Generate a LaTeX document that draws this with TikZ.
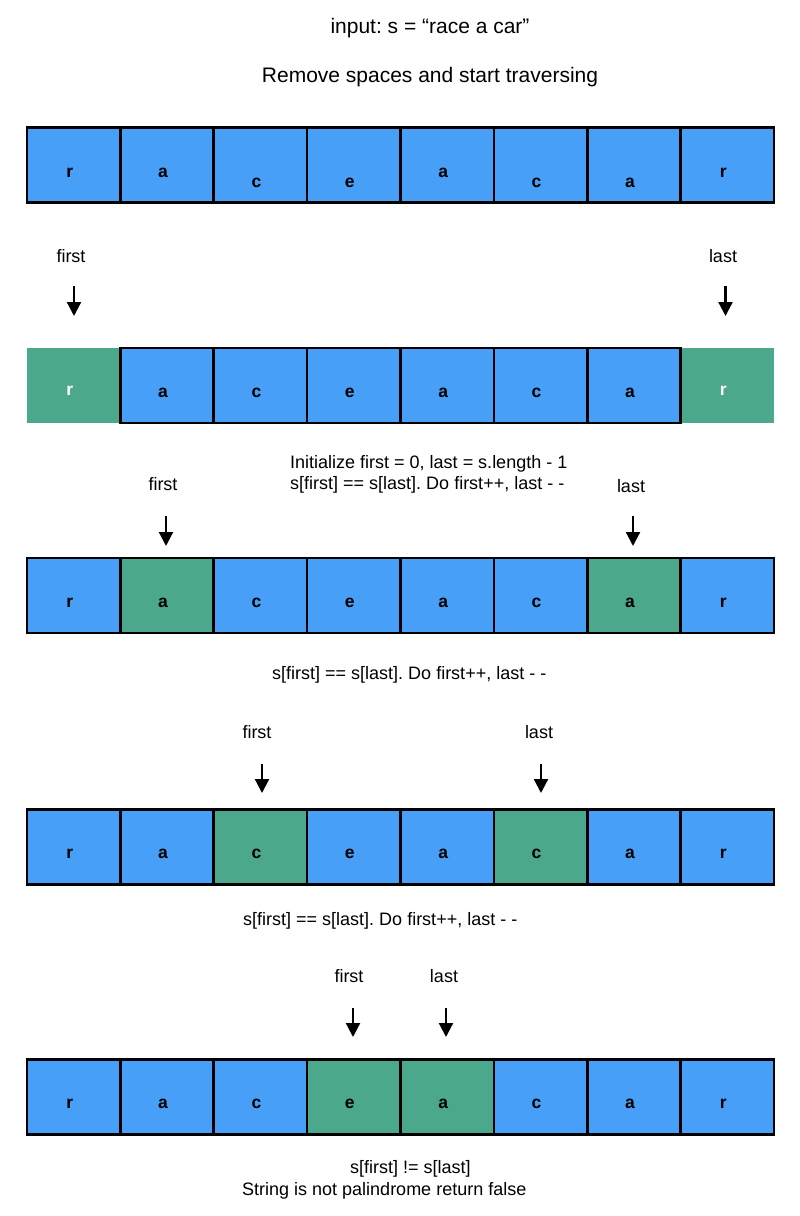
\documentclass[tikz,border=0pt]{standalone}
\usepackage{fontspec}
\setmainfont{Liberation Sans}
\usetikzlibrary{arrows.meta}
\definecolor{cellblue}{RGB}{72,159,248}
\definecolor{cellgreen}{RGB}{76,168,140}
\frenchspacing
\begin{document}
\begin{tikzpicture}[x=1pt,y=-1pt,
  cellbox/.style={rectangle, minimum width=93.375pt, minimum height=75pt, inner sep=0pt, outer sep=0pt, fill=cellblue, draw=black, line width=2.6pt},
  greenbox/.style={cellbox, fill=cellgreen},
  plaingreen/.style={rectangle, minimum width=92pt, minimum height=75pt, inner sep=0pt, outer sep=0pt, fill=cellgreen},
  letter/.style={anchor=base, inner sep=0pt, font=\fontsize{17.5}{20}\selectfont\bfseries},
  ptrlabel/.style={anchor=base, inner sep=0pt, font=\fontsize{18}{21}\selectfont},
  bigtext/.style={anchor=base, inner sep=0pt, font=\fontsize{21}{25}\selectfont},
  note/.style={anchor=base west, inner sep=0pt, font=\fontsize{18}{21}\selectfont},
  ptrarrow/.style={line width=2.2pt, -{Triangle[width=14pt,length=14pt]}}
]
\path[use as bounding box, fill=white] (0,0) rectangle (800,1216);

% titles
\node[bigtext] (title) at (430,33) {input: s = “race a car”};
\node[bigtext] (remove) at (430,82) {Remove spaces and start traversing};

% row 1
\foreach \i/\ch/\bl in {1/r/177,2/a/177,3/c/187,4/e/187,5/a/177,6/c/187,7/a/187,8/r/177}{
  \node[cellbox] (ra\i) at ({27+93.375*(\i-0.5)},165) {};
  \node[letter] (la\i) at ({23+93.375*(\i-0.5)},\bl) {\ch};
}

% row 2
\node[plaingreen] (rb1) at ({26.5+93.375*0.5},385.5) {};
\node[plaingreen] (rb8) at ({27.5+93.375*7.5},385.5) {};
\foreach \i/\ch in {2/a,3/c,4/e,5/a,6/c,7/a}{
  \node[cellbox] (rb\i) at ({27+93.375*(\i-0.5)},385.5) {};
  \node[letter] (lb\i) at ({23+93.375*(\i-0.5)},397) {\ch};
}
\node[letter, text=white] (lb1) at ({23+93.375*0.5},395) {r};
\node[letter, text=white] (lb8) at ({23+93.375*7.5},395) {r};

\node[ptrlabel] (f2) at (71,262) {first};
\node[ptrlabel] (l2) at (723,262) {last};
\coordinate (f2s) at (74,286); \coordinate (f2e) at (74,316);
\coordinate (l2s) at (725.5,286); \coordinate (l2e) at (725.5,316);
\draw[ptrarrow] (f2s) -- (f2e);
\draw[ptrarrow] (l2s) -- (l2e);

% row 3
\node[note] (init1) at (290,468) {Initialize first = 0, last = s.length - 1};
\node[note] (init2) at (290,489) {s[first] == s[last]. Do first++, last - -};
\node[ptrlabel] (f3) at (163,490) {first};
\node[ptrlabel] (l3) at (631,492) {last};
\coordinate (f3s) at (166,516); \coordinate (f3e) at (166,546);
\coordinate (l3s) at (633,516); \coordinate (l3e) at (633,546);
\draw[ptrarrow] (f3s) -- (f3e);
\draw[ptrarrow] (l3s) -- (l3e);
\foreach \i/\ch/\st in {1/r/cellbox,2/a/greenbox,3/c/cellbox,4/e/cellbox,5/a/cellbox,6/c/cellbox,7/a/greenbox,8/r/cellbox}{
  \node[\st] (rc\i) at ({27+93.375*(\i-0.5)},595.5) {};
  \node[letter] (lc\i) at ({23+93.375*(\i-0.5)},607) {\ch};
}
\node[note] (step3) at (272,679) {s[first] == s[last]. Do first++, last - -};

% row 4
\node[ptrlabel] (f4) at (257,738) {first};
\node[ptrlabel] (l4) at (539,738) {last};
\coordinate (f4s) at (262,764); \coordinate (f4e) at (262,793);
\coordinate (l4s) at (541,764); \coordinate (l4e) at (541,793);
\draw[ptrarrow] (f4s) -- (f4e);
\draw[ptrarrow] (l4s) -- (l4e);
\foreach \i/\ch/\st in {1/r/cellbox,2/a/cellbox,3/c/greenbox,4/e/cellbox,5/a/cellbox,6/c/greenbox,7/a/cellbox,8/r/cellbox}{
  \node[\st] (rd\i) at ({27+93.375*(\i-0.5)},847) {};
  \node[letter] (ld\i) at ({23+93.375*(\i-0.5)},858) {\ch};
}
\node[note] (step4) at (243,925) {s[first] == s[last]. Do first++, last - -};

% row 5
\node[ptrlabel] (f5) at (349,982) {first};
\node[ptrlabel] (l5) at (444,982) {last};
\coordinate (f5s) at (353,1008); \coordinate (f5e) at (353,1037);
\coordinate (l5s) at (446,1008); \coordinate (l5e) at (446,1037);
\draw[ptrarrow] (f5s) -- (f5e);
\draw[ptrarrow] (l5s) -- (l5e);
\foreach \i/\ch/\st in {1/r/cellbox,2/a/cellbox,3/c/cellbox,4/e/greenbox,5/a/greenbox,6/c/cellbox,7/a/cellbox,8/r/cellbox}{
  \node[\st] (re\i) at ({27+93.375*(\i-0.5)},1097) {};
  \node[letter] (le\i) at ({23+93.375*(\i-0.5)},1108) {\ch};
}
\node[note] (res1) at (350,1173) {s[first] != s[last]};
\node[note] (res2) at (242,1195) {String is not palindrome return false};
\end{tikzpicture}
\end{document}
